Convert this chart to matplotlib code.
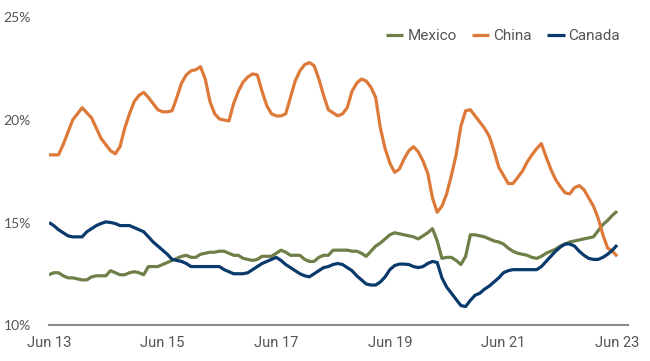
import matplotlib
matplotlib.use("Agg")
import matplotlib.pyplot as plt
import numpy as np

tick_labels = ["Jun 13", "Jun 15", "Jun 17", "Jun 19", "Jun 21", "Jun 23"]
tick_pos = [0, 24, 48, 72, 96, 120]

mexico = [12.45, 12.55, 12.55, 12.4, 12.3, 12.3, 12.25, 12.2, 12.2, 12.35,
          12.4, 12.4, 12.4, 12.65, 12.55, 12.45, 12.45, 12.55, 12.6, 12.55,
          12.45, 12.85, 12.85, 12.85, 12.95, 13.05, 13.15, 13.25, 13.35, 13.4,
          13.3, 13.3, 13.45, 13.5, 13.55, 13.55, 13.6, 13.6, 13.5, 13.4,
          13.4, 13.25, 13.2, 13.15, 13.2, 13.35, 13.35, 13.35, 13.5, 13.65,
          13.55, 13.4, 13.4, 13.4, 13.2, 13.1, 13.1, 13.3, 13.4, 13.4,
          13.65, 13.65, 13.65, 13.65, 13.6, 13.6, 13.5, 13.35, 13.6, 13.85,
          14.0, 14.2, 14.4, 14.5, 14.45, 14.4, 14.35, 14.3, 14.2, 14.35,
          14.5, 14.7, 14.1, 13.25, 13.3, 13.3, 13.15, 12.95, 13.35, 14.4,
          14.4, 14.35, 14.3, 14.2, 14.1, 14.05, 13.95, 13.75, 13.6, 13.5,
          13.45, 13.4, 13.3, 13.25, 13.35, 13.5, 13.6, 13.7, 13.85, 13.95,
          14.05, 14.1, 14.15, 14.2, 14.25, 14.3, 14.6, 14.9, 15.1, 15.35,
          15.55]

china = [18.3, 18.3, 18.3, 18.8, 19.4, 20.0, 20.3, 20.6, 20.35, 20.1,
         19.6, 19.1, 18.8, 18.5, 18.35, 18.7, 19.6, 20.3, 20.9, 21.2,
         21.35, 21.1, 20.8, 20.5, 20.4, 20.4, 20.45, 21.1, 21.8, 22.2,
         22.4, 22.45, 22.6, 22.0, 20.9, 20.3, 20.05, 20.0, 19.95, 20.8,
         21.4, 21.85, 22.1, 22.25, 22.2, 21.4, 20.7, 20.3, 20.2, 20.2,
         20.3, 21.1, 21.9, 22.4, 22.7, 22.8, 22.65, 22.0, 21.2, 20.5,
         20.35, 20.2, 20.3, 20.6, 21.4, 21.8, 22.0, 21.9, 21.6, 21.1,
         19.6, 18.6, 17.9, 17.45, 17.6, 18.1, 18.5, 18.7, 18.45, 18.0,
         17.4, 16.2, 15.5, 15.8, 16.4, 17.3, 18.3, 19.7, 20.45, 20.5,
         20.2, 19.9, 19.6, 19.2, 18.5, 17.7, 17.3, 16.9, 16.9, 17.2,
         17.5, 17.95, 18.3, 18.6, 18.85, 18.2, 17.6, 17.1, 16.75, 16.45,
         16.4, 16.7, 16.8, 16.6, 16.2, 15.8, 15.2, 14.4, 13.75, 13.6,
         13.35]

canada = [15.0, 14.85, 14.65, 14.5, 14.35, 14.3, 14.3, 14.3, 14.55, 14.7,
          14.85, 14.95, 15.03, 15.0, 14.95, 14.85, 14.85, 14.85, 14.75, 14.65,
          14.55, 14.3, 14.05, 13.85, 13.65, 13.45, 13.2, 13.15, 13.1, 13.0,
          12.85, 12.85, 12.85, 12.85, 12.85, 12.85, 12.85, 12.7, 12.6, 12.5,
          12.5, 12.5, 12.55, 12.7, 12.85, 13.0, 13.1, 13.2, 13.3, 13.15,
          12.95, 12.8, 12.65, 12.5, 12.4, 12.35, 12.5, 12.65, 12.8, 12.85,
          12.95, 13.0, 12.95, 12.8, 12.65, 12.4, 12.2, 12.0, 11.95, 11.95,
          12.1, 12.35, 12.7, 12.9, 12.97, 12.97, 12.95, 12.85, 12.8, 12.85,
          13.0, 13.1, 13.05, 12.3, 11.85, 11.55, 11.25, 10.95, 10.9, 11.2,
          11.45, 11.55, 11.75, 11.9, 12.1, 12.3, 12.55, 12.65, 12.7, 12.7,
          12.7, 12.7, 12.7, 12.7, 12.85, 13.1, 13.35, 13.6, 13.8, 13.95,
          13.95, 13.85, 13.6, 13.4, 13.25, 13.2, 13.2, 13.3, 13.45, 13.65,
          13.9]

series_names = ["Mexico", "China", "Canada"]
colors = ["#6E7F47", "#DD7A3A", "#0A3A6C"]

plt.rcParams['font.family'] = ['Lato', 'DejaVu Sans']

W, H = 650, 361
fig = plt.figure(figsize=(W / 100, H / 100), dpi=100)
ax = fig.add_axes([49 / W, 36 / H, (628 - 49) / W, (325 - 17.5) / H])

x = np.arange(len(mexico))
for name, vals, c in zip(series_names, [mexico, china, canada], colors):
    ax.plot(x, vals, color=c, lw=2.3, label=name, solid_joinstyle='round',
            solid_capstyle='butt')

ax.set_xlim(0, 122.3)
ax.set_ylim(10, 25)
ax.set_yticks([10, 15, 20, 25])
ax.set_yticklabels(["10%", "15%", "20%", "25%"])
ax.set_xticks(tick_pos)
ax.set_xticklabels(tick_labels, family=['Roboto', 'DejaVu Sans'], fontsize=10.5)

for s in ["top", "right", "left"]:
    ax.spines[s].set_visible(False)
ax.spines["bottom"].set_color("#8c8c8c")
ax.spines["bottom"].set_linewidth(1.5)
ax.tick_params(axis="both", length=0, labelcolor="#555555")
ax.tick_params(axis="y", pad=13, labelsize=10)
ax.tick_params(axis="x", pad=8)

leg = fig.legend(loc="center right", bbox_to_anchor=(620 / W, 1 - 36 / H),
                 ncol=3, frameon=False,
                 prop={'family': ['Roboto', 'DejaVu Sans'], 'size': 11},
                 handlelength=1.15, handletextpad=0.25, columnspacing=1.0,
                 borderpad=0, borderaxespad=0)
for t in leg.get_texts():
    t.set_color("#555555")
for l in leg.get_lines():
    l.set_linewidth(2.3)

fig.savefig("out.png", dpi=100)
